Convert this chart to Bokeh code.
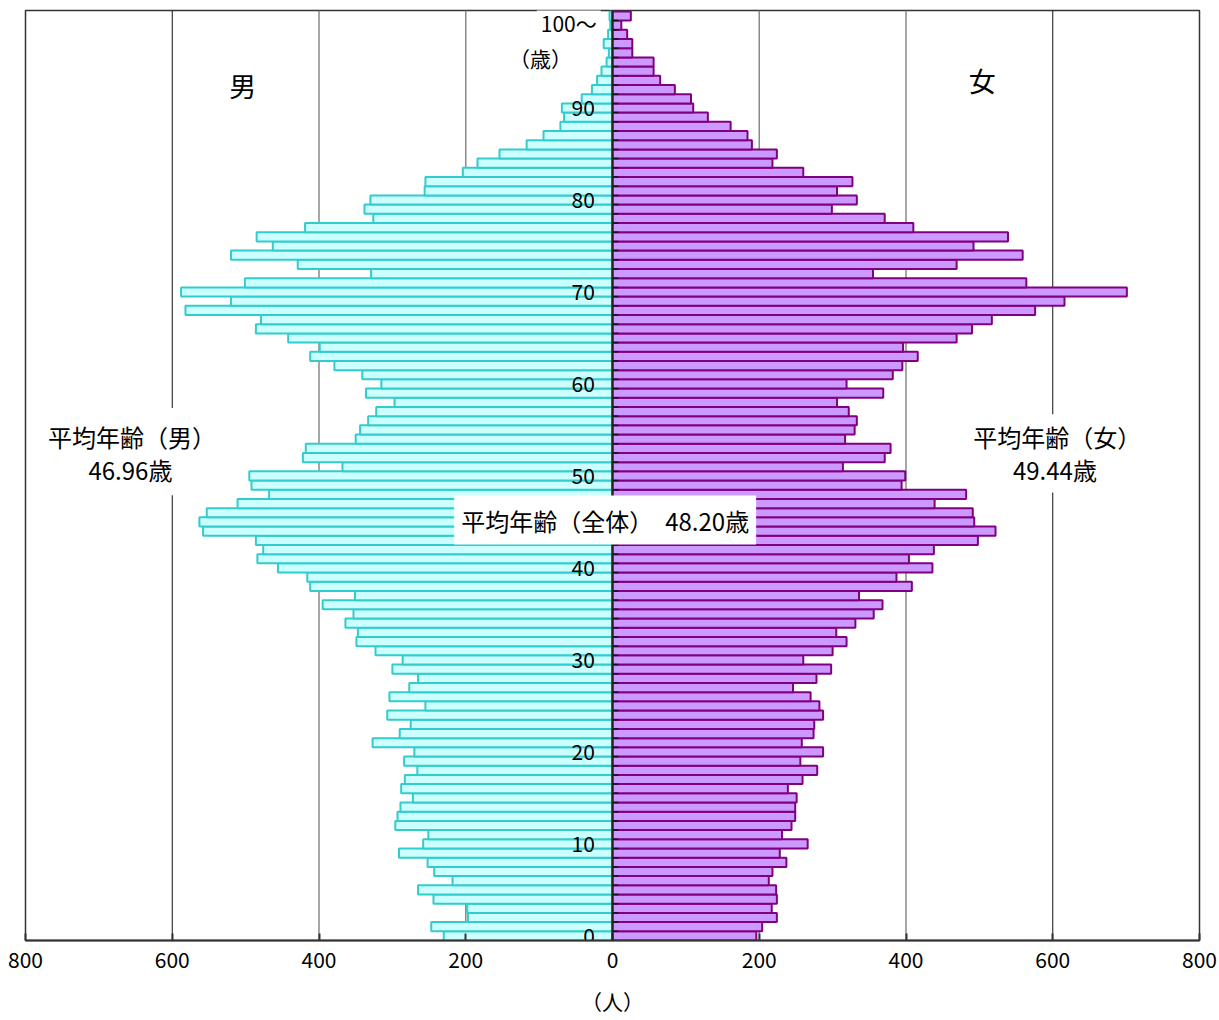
from bokeh.plotting import figure
from bokeh.models import Range1d, FixedTicker, Span, Label, BoxAnnotation, ColumnDataSource
from bokeh.core.properties import value
from bokeh.embed import file_html
from bokeh.resources import INLINE

FONT = "Noto Sans CJK JP"

# ---- data (age 0 .. 100~) ----
ages = list(range(0, 101))
male = [230, 247, 197, 198, 244, 265, 218, 243, 252, 291,
        258, 251, 296, 293, 289, 272, 288, 283, 266, 284,
        270, 327, 290, 275, 307, 255, 304, 277, 265, 300,
        286, 323, 349, 347, 364, 353, 395, 351, 412, 416,
        456, 484, 476, 486, 558, 563, 553, 511, 468, 492,
        495, 368, 422, 418, 350, 344, 333, 322, 297, 336,
        315, 341, 379, 412, 399, 442, 486, 479, 582, 520,
        588, 501, 329, 429, 520, 463, 485, 419, 326, 338,
        330, 256, 255, 204, 184, 154, 117, 94, 71, 66,
        69, 42, 28, 21, 15, 8, 5, 12, 6, 3,
        4]
female = [196, 204, 224, 217, 224, 223, 213, 218, 237, 228,
          266, 231, 244, 249, 249, 251, 239, 259, 279, 256,
          287, 258, 274, 275, 287, 282, 270, 246, 278, 298,
          260, 300, 319, 305, 331, 356, 368, 336, 408, 387,
          436, 404, 438, 498, 522, 493, 491, 439, 482, 394,
          399, 314, 371, 379, 317, 330, 333, 322, 306, 369,
          319, 382, 395, 416, 396, 469, 490, 517, 576, 616,
          701, 564, 355, 469, 559, 492, 539, 410, 371, 299,
          333, 306, 327, 260, 218, 224, 190, 184, 161, 130,
          110, 107, 85, 65, 56, 56, 27, 27, 20, 12,
          25]

x_ticks = [-800, -600, -400, -200, 0, 200, 400, 600, 800]
x_tick_labels = ["800", "600", "400", "200", "0", "200", "400", "600", "800"]
y_tick_ages = [0, 10, 20, 30, 40, 50, 60, 70, 80, 90]
y_tick_labels = ["0", "10", "20", "30", "40", "50", "60", "70", "80", "90"]
grid_x = [-600, -400, -200, 200, 400, 600]
grid_colors = ["#111111", "#8a8a8a", "#8a8a8a", "#8a8a8a", "#8a8a8a", "#111111"]
grid_widths = [1, 1.5, 1.5, 1.5, 1.5, 1]

avg_male = "46.96歳"
avg_female = "49.44歳"
avg_all = "平均年齢（全体）　48.20歳"

src = ColumnDataSource(dict(
    age=ages,
    m_left=[-v for v in male],
    f_right=female,
))

p = figure(width=1217, height=1020,
           x_range=Range1d(-800, 800), y_range=Range1d(-0.5, 100.6),
           output_backend="svg", toolbar_location=None,
           y_axis_location=None,
           min_border_left=25, min_border_right=18,
           min_border_top=10, min_border_bottom=80)
p.background_fill_color = "white"
p.border_fill_color = "white"
p.outline_line_color = "#333333"
p.outline_line_width = 1.5
p.xgrid.visible = False
p.ygrid.visible = False

# x axis
ax = p.xaxis[0]
ax.ticker = FixedTicker(ticks=x_ticks)
ax.major_label_overrides = {t: l for t, l in zip(x_ticks, x_tick_labels)}
ax.major_label_text_font = FONT
ax.major_label_text_font_size = "21px"
ax.major_label_text_color = "black"
ax.major_label_standoff = 11
ax.major_tick_in = 7
ax.major_tick_out = 0
ax.major_tick_line_color = "#333333"
ax.major_tick_line_width = 2
ax.minor_tick_line_color = None
ax.axis_line_color = "#333333"
ax.axis_line_width = 2
ax.axis_label = "（人）"
ax.axis_label_text_font = FONT
ax.axis_label_text_font_size = "21px"
ax.axis_label_text_font_style = "normal"
ax.axis_label_text_color = "black"
ax.axis_label_standoff = 15

# gridlines
for gx, gc, gw in zip(grid_x, grid_colors, grid_widths):
    p.add_layout(Span(location=gx, dimension="height", line_color=gc,
                      line_width=gw, level="underlay"))

# white boxes hiding gridlines behind the average labels
p.add_layout(BoxAnnotation(left=-779, right=-527, bottom=47.9, top=57.4,
                           fill_color="white", fill_alpha=1.0, line_color=None,
                           level="underlay"))
p.add_layout(BoxAnnotation(left=490, right=733, bottom=48.2, top=56.7,
                           fill_color="white", fill_alpha=1.0, line_color=None,
                           level="underlay"))

# bars
p.hbar(y="age", left="m_left", right=0, height=1.0, source=src,
       fill_color="#CCFFFF", line_color="#33CCCC", line_width=2)
p.hbar(y="age", left=0, right="f_right", height=1.0, source=src,
       fill_color="#CC99FF", line_color="#800080", line_width=2)

# center axis with small ticks at bar boundaries
p.segment(x0=0, y0=[a - 0.5 for a in ages[1:]], x1=8, y1=[a - 0.5 for a in ages[1:]],
          line_color="#111111", line_width=1.5)
p.add_layout(Span(location=0, dimension="height", line_color="#222222", line_width=2))

# age labels
p.text(x=-24, y=y_tick_ages, text=y_tick_labels, text_align="right",
       text_baseline="middle", text_font=value(FONT), text_font_size="21px",
       text_color="black")

def lab(x, y, t, size="21px", bg=None, pad=0, align="center"):
    kw = dict(x=x, y=y, text=t, text_align=align, text_baseline="middle",
              text_font=FONT, text_font_size=size, text_color="black")
    if bg:
        kw.update(background_fill_color=bg, background_fill_alpha=1.0, padding=pad)
    p.add_layout(Label(**kw))

lab(-16, 99.2, "100～", bg="white", pad=4, align="right")
lab(-98, 95.4, "（歳）")
lab(-504, 92.4, "男", size="27px")
lab(504, 93.0, "女", size="27px")
lab(-655, 54.3, "平均年齢（男）", size="24px")
lab(-657, 50.7, avg_male, size="24px")
lab(606, 54.3, "平均年齢（女）", size="24px")
lab(603, 50.7, avg_female, size="24px")
lab(-10, 45.2, avg_all, size="24px", bg="white", pad=7)

open("out.html", "w").write(file_html(p, INLINE))
